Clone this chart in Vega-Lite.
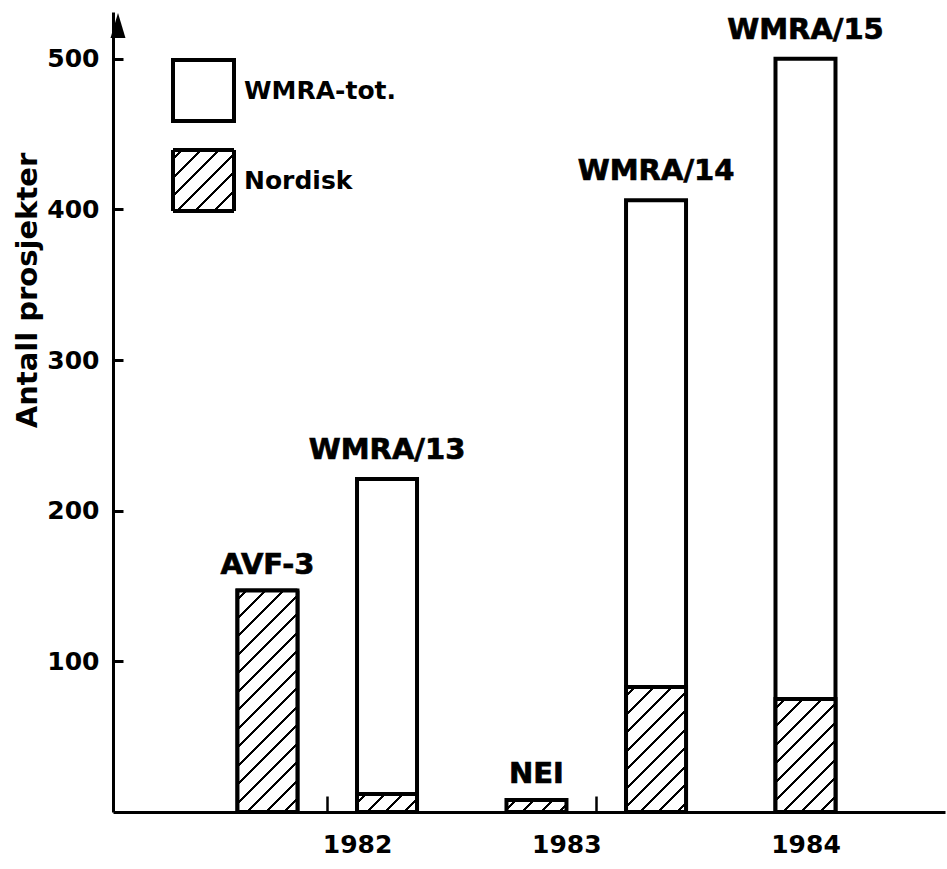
{
  "$schema": "https://vega.github.io/schema/vega-lite/v6.json",
  "width": 832,
  "height": 800,
  "autosize": {"type": "none"},
  "padding": {"left": 113, "top": 12, "right": 2, "bottom": 57},
  "background": "white",
  "data": {"values": [
    {"prosjekt": "AVF-3", "kolonne": 5, "wmra_tot": null, "nordisk": 147},
    {"prosjekt": "WMRA/13", "kolonne": 9, "wmra_tot": 221, "nordisk": 12},
    {"prosjekt": "NEI", "kolonne": 14, "wmra_tot": null, "nordisk": 8},
    {"prosjekt": "WMRA/14", "kolonne": 18, "wmra_tot": 406, "nordisk": 83},
    {"prosjekt": "WMRA/15", "kolonne": 23, "wmra_tot": 500, "nordisk": 75}
  ]},
  "encoding": {
    "x": {"field": "kolonne", "type": "quantitative", "title": null,
      "scale": {"domain": [0, 27.5], "nice": false, "zero": false},
      "axis": {"values": [7, 8, 15, 16, 23],
        "labelExpr": "datum.value == 8 ? '1982' : datum.value == 15 ? '1983' : datum.value == 23 ? '1984' : ''",
        "tickSize": -16,
        "tickOpacity": {"condition": {"test": "datum.value == 7 || datum.value == 16", "value": 1}, "value": 0},
        "labelPadding": 36, "labelFlush": false, "labelOverlap": false, "labelBaseline": "top"}},
    "y": {"field": "nordisk", "type": "quantitative", "title": "Antall prosjekter",
      "scale": {"domain": [0, 531], "nice": false},
      "axis": {"values": [100, 200, 300, 400, 500], "ticks": true, "tickSize": -10, "tickWidth": 3,
        "tickOpacity": {"condition": {"test": "datum.value > 0", "value": 1}, "value": 1}, "labelPadding": 24,
        "labelBaseline": "middle", "titleFontSize": 29, "titleX": -86, "titleY": 278,
        "titleAngle": -90, "titleAlign": "center", "titleBaseline": "middle"}}
  },
  "layer": [
    {
      "transform": [{"filter": {"field": "prosjekt", "equal": "AVF-3"}}],
      "mark": {"type": "bar", "width": 60, "stroke": "black", "strokeWidth": 4,
        "fill": {"gradient": "linear", "x1": 0, "y1": 0, "x2": 2.426, "y2": 2.426, "stops": [
{"offset":0.0262,"color":"#fff"},{"offset":0.0262,"color":"#000"},{"offset":0.0363,"color":"#000"},{"offset":0.0363,"color":"#fff"},
{"offset":0.0887,"color":"#fff"},{"offset":0.0887,"color":"#000"},{"offset":0.0988,"color":"#000"},{"offset":0.0988,"color":"#fff"},
{"offset":0.1512,"color":"#fff"},{"offset":0.1512,"color":"#000"},{"offset":0.1613,"color":"#000"},{"offset":0.1613,"color":"#fff"},
{"offset":0.2137,"color":"#fff"},{"offset":0.2137,"color":"#000"},{"offset":0.2238,"color":"#000"},{"offset":0.2238,"color":"#fff"},
{"offset":0.2762,"color":"#fff"},{"offset":0.2762,"color":"#000"},{"offset":0.2863,"color":"#000"},{"offset":0.2863,"color":"#fff"},
{"offset":0.3387,"color":"#fff"},{"offset":0.3387,"color":"#000"},{"offset":0.3488,"color":"#000"},{"offset":0.3488,"color":"#fff"},
{"offset":0.4012,"color":"#fff"},{"offset":0.4012,"color":"#000"},{"offset":0.4113,"color":"#000"},{"offset":0.4113,"color":"#fff"}
        ]}},
      "encoding": {
        "strokeDash": {"datum": "Nordisk", "type": "nominal",
          "scale": {"domain": ["Nordisk"], "range": [[1, 0]]},
          "legend": {"orient": "none", "legendX": 58, "legendY": 136, "title": null,
            "symbolType": "square", "symbolSize": 3721, "symbolStrokeWidth": 4,
            "labelFont": "DejaVu Sans", "labelFontWeight": "bold", "labelFontSize": 25, "labelColor": "black",
            "labelOffset": 8, "padding": 0, "symbolOpacity": 1}}
      }
    },
    {
      "mark": {"type": "bar", "width": 60, "fill": "white", "strokeWidth": 4},
      "encoding": {
        "y": {"field": "wmra_tot", "type": "quantitative", "title": "Antall prosjekter",
          "scale": {"domain": [0, 531], "nice": false},
          "axis": {"values": [100, 200, 300, 400, 500], "ticks": true, "tickSize": -10, "tickWidth": 3,
            "tickOpacity": {"condition": {"test": "datum.value > 0", "value": 1}, "value": 1}, "labelPadding": 24,
            "labelBaseline": "middle", "titleFontSize": 29, "titleX": -86, "titleY": 278,
            "titleAngle": -90, "titleAlign": "center", "titleBaseline": "middle"}},
        "stroke": {"datum": "WMRA-tot.", "type": "nominal",
          "scale": {"domain": ["WMRA-tot."], "range": ["black"]},
          "legend": {"orient": "none", "legendX": 58, "legendY": 46, "title": null,
            "symbolType": "square", "symbolSize": 3721, "symbolStrokeWidth": 4,
            "labelFont": "DejaVu Sans", "labelFontWeight": "bold", "labelFontSize": 25, "labelColor": "black",
            "labelOffset": 8, "padding": 0, "symbolOpacity": 1}}
      }
    },
    {
      "transform": [{"filter": {"field": "prosjekt", "equal": "AVF-3"}}],
      "mark": {"type": "bar", "width": 60, "stroke": "black", "strokeWidth": 4,
        "fill": {"gradient": "linear", "x1": 0, "y1": 0, "x2": 0.3373, "y2": 1.2451, "stops": [
{"offset":0.0262,"color":"#fff"},{"offset":0.0262,"color":"#000"},{"offset":0.0363,"color":"#000"},{"offset":0.0363,"color":"#fff"},
{"offset":0.0887,"color":"#fff"},{"offset":0.0887,"color":"#000"},{"offset":0.0988,"color":"#000"},{"offset":0.0988,"color":"#fff"},
{"offset":0.1512,"color":"#fff"},{"offset":0.1512,"color":"#000"},{"offset":0.1613,"color":"#000"},{"offset":0.1613,"color":"#fff"},
{"offset":0.2137,"color":"#fff"},{"offset":0.2137,"color":"#000"},{"offset":0.2238,"color":"#000"},{"offset":0.2238,"color":"#fff"},
{"offset":0.2762,"color":"#fff"},{"offset":0.2762,"color":"#000"},{"offset":0.2863,"color":"#000"},{"offset":0.2863,"color":"#fff"},
{"offset":0.3387,"color":"#fff"},{"offset":0.3387,"color":"#000"},{"offset":0.3488,"color":"#000"},{"offset":0.3488,"color":"#fff"},
{"offset":0.4012,"color":"#fff"},{"offset":0.4012,"color":"#000"},{"offset":0.4113,"color":"#000"},{"offset":0.4113,"color":"#fff"},
{"offset":0.4637,"color":"#fff"},{"offset":0.4637,"color":"#000"},{"offset":0.4738,"color":"#000"},{"offset":0.4738,"color":"#fff"},
{"offset":0.5262,"color":"#fff"},{"offset":0.5262,"color":"#000"},{"offset":0.5363,"color":"#000"},{"offset":0.5363,"color":"#fff"},
{"offset":0.5887,"color":"#fff"},{"offset":0.5887,"color":"#000"},{"offset":0.5988,"color":"#000"},{"offset":0.5988,"color":"#fff"},
{"offset":0.6512,"color":"#fff"},{"offset":0.6512,"color":"#000"},{"offset":0.6613,"color":"#000"},{"offset":0.6613,"color":"#fff"},
{"offset":0.7137,"color":"#fff"},{"offset":0.7137,"color":"#000"},{"offset":0.7238,"color":"#000"},{"offset":0.7238,"color":"#fff"},
{"offset":0.7762,"color":"#fff"},{"offset":0.7762,"color":"#000"},{"offset":0.7863,"color":"#000"},{"offset":0.7863,"color":"#fff"},
{"offset":0.8387,"color":"#fff"},{"offset":0.8387,"color":"#000"},{"offset":0.8488,"color":"#000"},{"offset":0.8488,"color":"#fff"},
{"offset":0.9012,"color":"#fff"},{"offset":0.9012,"color":"#000"},{"offset":0.9113,"color":"#000"},{"offset":0.9113,"color":"#fff"},
{"offset":0.9637,"color":"#fff"},{"offset":0.9637,"color":"#000"},{"offset":0.9738,"color":"#000"},{"offset":0.9738,"color":"#fff"}
        ]}}
    },
    {
      "transform": [{"filter": {"field": "prosjekt", "equal": "WMRA/13"}}],
      "mark": {"type": "bar", "width": 60, "stroke": "black", "strokeWidth": 4,
        "fill": {"gradient": "linear", "x1": 0, "y1": 0, "x2": 4.5226, "y2": 1.3628, "stops": [
{"offset":0.0262,"color":"#fff"},{"offset":0.0262,"color":"#000"},{"offset":0.0363,"color":"#000"},{"offset":0.0363,"color":"#fff"},
{"offset":0.0887,"color":"#fff"},{"offset":0.0887,"color":"#000"},{"offset":0.0988,"color":"#000"},{"offset":0.0988,"color":"#fff"},
{"offset":0.1512,"color":"#fff"},{"offset":0.1512,"color":"#000"},{"offset":0.1613,"color":"#000"},{"offset":0.1613,"color":"#fff"},
{"offset":0.2137,"color":"#fff"},{"offset":0.2137,"color":"#000"},{"offset":0.2238,"color":"#000"},{"offset":0.2238,"color":"#fff"},
{"offset":0.2762,"color":"#fff"},{"offset":0.2762,"color":"#000"},{"offset":0.2863,"color":"#000"},{"offset":0.2863,"color":"#fff"},
{"offset":0.3387,"color":"#fff"},{"offset":0.3387,"color":"#000"},{"offset":0.3488,"color":"#000"},{"offset":0.3488,"color":"#fff"}
        ]}}
    },
    {
      "transform": [{"filter": {"field": "prosjekt", "equal": "NEI"}}],
      "mark": {"type": "bar", "width": 60, "stroke": "black", "strokeWidth": 4,
        "fill": {"gradient": "linear", "x1": 0, "y1": 0, "x2": 4.7421, "y2": 0.9524, "stops": [
{"offset":0.0262,"color":"#fff"},{"offset":0.0262,"color":"#000"},{"offset":0.0363,"color":"#000"},{"offset":0.0363,"color":"#fff"},
{"offset":0.0887,"color":"#fff"},{"offset":0.0887,"color":"#000"},{"offset":0.0988,"color":"#000"},{"offset":0.0988,"color":"#fff"},
{"offset":0.1512,"color":"#fff"},{"offset":0.1512,"color":"#000"},{"offset":0.1613,"color":"#000"},{"offset":0.1613,"color":"#fff"},
{"offset":0.2137,"color":"#fff"},{"offset":0.2137,"color":"#000"},{"offset":0.2238,"color":"#000"},{"offset":0.2238,"color":"#fff"}
        ]}}
    },
    {
      "transform": [{"filter": {"field": "prosjekt", "equal": "WMRA/14"}}],
      "mark": {"type": "bar", "width": 60, "stroke": "black", "strokeWidth": 4,
        "fill": {"gradient": "linear", "x1": 0, "y1": 0, "x2": 0.9232, "y2": 1.9241, "stops": [
{"offset":0.0262,"color":"#fff"},{"offset":0.0262,"color":"#000"},{"offset":0.0363,"color":"#000"},{"offset":0.0363,"color":"#fff"},
{"offset":0.0887,"color":"#fff"},{"offset":0.0887,"color":"#000"},{"offset":0.0988,"color":"#000"},{"offset":0.0988,"color":"#fff"},
{"offset":0.1512,"color":"#fff"},{"offset":0.1512,"color":"#000"},{"offset":0.1613,"color":"#000"},{"offset":0.1613,"color":"#fff"},
{"offset":0.2137,"color":"#fff"},{"offset":0.2137,"color":"#000"},{"offset":0.2238,"color":"#000"},{"offset":0.2238,"color":"#fff"},
{"offset":0.2762,"color":"#fff"},{"offset":0.2762,"color":"#000"},{"offset":0.2863,"color":"#000"},{"offset":0.2863,"color":"#fff"},
{"offset":0.3387,"color":"#fff"},{"offset":0.3387,"color":"#000"},{"offset":0.3488,"color":"#000"},{"offset":0.3488,"color":"#fff"},
{"offset":0.4012,"color":"#fff"},{"offset":0.4012,"color":"#000"},{"offset":0.4113,"color":"#000"},{"offset":0.4113,"color":"#fff"},
{"offset":0.4637,"color":"#fff"},{"offset":0.4637,"color":"#000"},{"offset":0.4738,"color":"#000"},{"offset":0.4738,"color":"#fff"},
{"offset":0.5262,"color":"#fff"},{"offset":0.5262,"color":"#000"},{"offset":0.5363,"color":"#000"},{"offset":0.5363,"color":"#fff"},
{"offset":0.5887,"color":"#fff"},{"offset":0.5887,"color":"#000"},{"offset":0.5988,"color":"#000"},{"offset":0.5988,"color":"#fff"},
{"offset":0.6512,"color":"#fff"},{"offset":0.6512,"color":"#000"},{"offset":0.6613,"color":"#000"},{"offset":0.6613,"color":"#fff"}
        ]}}
    },
    {
      "transform": [{"filter": {"field": "prosjekt", "equal": "WMRA/15"}}],
      "mark": {"type": "bar", "width": 60, "stroke": "black", "strokeWidth": 4,
        "fill": {"gradient": "linear", "x1": 0, "y1": 0, "x2": 1.085, "y2": 2.0434, "stops": [
{"offset":0.0262,"color":"#fff"},{"offset":0.0262,"color":"#000"},{"offset":0.0363,"color":"#000"},{"offset":0.0363,"color":"#fff"},
{"offset":0.0887,"color":"#fff"},{"offset":0.0887,"color":"#000"},{"offset":0.0988,"color":"#000"},{"offset":0.0988,"color":"#fff"},
{"offset":0.1512,"color":"#fff"},{"offset":0.1512,"color":"#000"},{"offset":0.1613,"color":"#000"},{"offset":0.1613,"color":"#fff"},
{"offset":0.2137,"color":"#fff"},{"offset":0.2137,"color":"#000"},{"offset":0.2238,"color":"#000"},{"offset":0.2238,"color":"#fff"},
{"offset":0.2762,"color":"#fff"},{"offset":0.2762,"color":"#000"},{"offset":0.2863,"color":"#000"},{"offset":0.2863,"color":"#fff"},
{"offset":0.3387,"color":"#fff"},{"offset":0.3387,"color":"#000"},{"offset":0.3488,"color":"#000"},{"offset":0.3488,"color":"#fff"},
{"offset":0.4012,"color":"#fff"},{"offset":0.4012,"color":"#000"},{"offset":0.4113,"color":"#000"},{"offset":0.4113,"color":"#fff"},
{"offset":0.4637,"color":"#fff"},{"offset":0.4637,"color":"#000"},{"offset":0.4738,"color":"#000"},{"offset":0.4738,"color":"#fff"},
{"offset":0.5262,"color":"#fff"},{"offset":0.5262,"color":"#000"},{"offset":0.5363,"color":"#000"},{"offset":0.5363,"color":"#fff"},
{"offset":0.5887,"color":"#fff"},{"offset":0.5887,"color":"#000"},{"offset":0.5988,"color":"#000"},{"offset":0.5988,"color":"#fff"}
        ]}}
    },
    {
      "mark": {"type": "text", "font": "DejaVu Sans", "fontWeight": "bold", "fontSize": 29, "align": "center", "baseline": "alphabetic", "dy": -20, "fill": "black", "stroke": "black", "strokeWidth": 0.7},
      "encoding": {
        "y": {"field": "wmra_tot", "type": "quantitative", "title": "Antall prosjekter",
          "scale": {"domain": [0, 531], "nice": false},
          "axis": {"values": [100, 200, 300, 400, 500], "ticks": true, "tickSize": -10, "tickWidth": 3,
            "tickOpacity": {"condition": {"test": "datum.value > 0", "value": 1}, "value": 1}, "labelPadding": 24,
            "labelBaseline": "middle", "titleFontSize": 29, "titleX": -86, "titleY": 278,
            "titleAngle": -90, "titleAlign": "center", "titleBaseline": "middle"}},
        "text": {"field": "prosjekt"}
      }
    },
    {
      "transform": [{"filter": "datum.wmra_tot == null"}],
      "mark": {"type": "text", "font": "DejaVu Sans", "fontWeight": "bold", "fontSize": 29, "align": "center", "baseline": "alphabetic", "dy": -17, "fill": "black", "stroke": "black", "strokeWidth": 0.7},
      "encoding": {
        "text": {"field": "prosjekt"}
      }
    },
    {
      "transform": [{"filter": {"field": "prosjekt", "equal": "WMRA/15"}}],
      "mark": {"type": "point", "shape": "M0,-1L0.6,1L-0.6,1Z", "filled": true, "fill": "black", "strokeWidth": 0, "size": 620, "opacity": 1},
      "encoding": {
        "x": {"datum": 0, "type": "quantitative"},
        "y": {"datum": 522, "type": "quantitative"}
      }
    }
  ],
  "config": {
    "view": {"stroke": null},
    "font": "DejaVu Sans",
    "legend": {"rowPadding": 13},
    "axis": {"labelFont": "DejaVu Sans", "labelFontWeight": "bold", "labelFontSize": 25, "labelColor": "black",
      "domainColor": "black", "domainWidth": 3, "tickColor": "black", "tickWidth": 2.5, "grid": false,
      "titleFont": "DejaVu Sans", "titleFontWeight": "bold", "titleColor": "black"}
  }
}
